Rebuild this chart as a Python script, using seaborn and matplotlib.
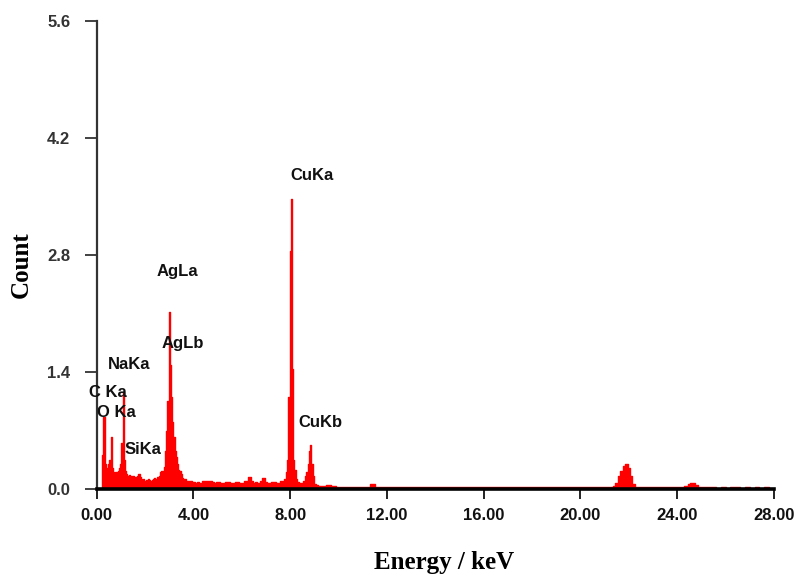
import numpy as np
import pandas as pd
import matplotlib
matplotlib.use("Agg")
import matplotlib.pyplot as plt
import seaborn as sns

# EDS spectrum (energy in keV, counts)
energy_low = [0.20, 0.25, 0.30, 0.35, 0.40, 0.45, 0.50, 0.55, 0.60, 0.65,
              0.70, 0.75, 0.80, 0.85, 0.90, 0.95, 1.00, 1.05, 1.10, 1.15,
              1.20, 1.25, 1.30, 1.35, 1.40, 1.45, 1.50, 1.55, 1.60, 1.65,
              1.70, 1.75, 1.80, 1.85, 1.90, 1.95, 2.00, 2.05, 2.10, 2.15,
              2.20, 2.25, 2.30, 2.35, 2.40, 2.45, 2.50, 2.55, 2.60, 2.65,
              2.70, 2.75, 2.80, 2.85, 2.90, 2.95, 3.00, 3.05, 3.10, 3.15,
              3.20, 3.25, 3.30, 3.35, 3.40, 3.45, 3.50, 3.55, 3.60, 3.65,
              3.70, 3.75, 3.80]
count_low = [0.00, 0.41, 0.86, 0.30, 0.25, 0.22, 0.30, 0.35, 0.62, 0.25,
             0.20, 0.18, 0.20, 0.19, 0.22, 0.25, 0.30, 0.55, 1.16, 0.35,
             0.22, 0.18, 0.16, 0.17, 0.15, 0.14, 0.15, 0.13, 0.14, 0.12,
             0.15, 0.18, 0.14, 0.12, 0.11, 0.12, 0.10, 0.11, 0.10, 0.12,
             0.11, 0.10, 0.11, 0.12, 0.13, 0.12, 0.14, 0.13, 0.15, 0.20,
             0.22, 0.18, 0.26, 0.45, 0.70, 1.05, 2.12, 1.48, 1.10, 0.80,
             0.62, 0.45, 0.38, 0.30, 0.23, 0.22, 0.18, 0.13, 0.11, 0.12,
             0.10, 0.09, 0.10]

energy_mid = [3.9, 4.0, 4.1, 4.2, 4.3, 4.4, 4.5, 4.6, 4.7, 4.8,
              4.9, 5.0, 5.2, 5.4, 5.6, 5.8, 6.0, 6.2, 6.3, 6.35,
              6.4, 6.5, 6.6, 6.7, 6.8, 6.9, 7.0, 7.1, 7.3, 7.5,
              7.7, 7.8, 7.85, 7.9, 7.95, 8.00, 8.05, 8.10, 8.15, 8.20,
              8.25, 8.30, 8.40, 8.50, 8.60, 8.65, 8.70, 8.75, 8.80, 8.85,
              8.90, 8.95, 9.00, 9.10, 9.20]
count_mid = [0.09, 0.08, 0.075, 0.08, 0.075, 0.10, 0.10, 0.09, 0.10, 0.08,
             0.075, 0.08, 0.075, 0.08, 0.075, 0.08, 0.075, 0.09, 0.14, 0.14,
             0.10, 0.075, 0.08, 0.075, 0.10, 0.13, 0.08, 0.075, 0.08, 0.075,
             0.09, 0.12, 0.20, 0.35, 1.10, 2.85, 3.47, 1.44, 0.35, 0.23,
             0.12, 0.08, 0.07, 0.07, 0.10, 0.15, 0.20, 0.30, 0.45, 0.53,
             0.30, 0.15, 0.06, 0.05, 0.04]

energy_high = [9.4, 9.6, 9.8, 10.0, 10.4, 10.8, 11.2, 11.4, 11.6, 12.0,
               12.5, 13.0, 13.5, 14.0, 14.5, 15.0, 15.5, 16.0, 16.5, 17.0,
               17.5, 18.0, 18.5, 19.0, 19.5, 20.0, 20.5, 21.0, 21.3, 21.4,
               21.5, 21.6, 21.7, 21.8, 21.9, 22.0, 22.1, 22.2, 22.3, 22.6,
               23.0, 23.4, 23.8, 24.2, 24.4, 24.5, 24.6, 24.7, 24.8, 24.9,
               25.2, 25.5, 25.7, 25.9, 26.1, 26.3, 26.5, 26.7, 26.9, 27.1,
               27.3, 27.5, 27.7, 27.9, 28.0]
count_high = [0.035, 0.05, 0.04, 0.03, 0.03, 0.028, 0.03, 0.06, 0.03, 0.028,
              0.025, 0.025, 0.024, 0.025, 0.024, 0.025, 0.024, 0.025, 0.024, 0.025,
              0.024, 0.025, 0.024, 0.025, 0.024, 0.025, 0.026, 0.028, 0.03, 0.04,
              0.07, 0.15, 0.22, 0.27, 0.30, 0.25, 0.15, 0.06, 0.03, 0.028,
              0.026, 0.025, 0.026, 0.028, 0.04, 0.06, 0.07, 0.07, 0.05, 0.03,
              0.025, 0.02, 0.005, 0.02, 0.005, 0.02, 0.02, 0.005, 0.02, 0.005,
              0.02, 0.005, 0.02, 0.005, 0.0]

peak_names = ["CuKa", "AgLa", "AgLb", "NaKa", "C Ka", "O Ka", "SiKa", "CuKb"]

spectrum = pd.DataFrame({
    "Energy": energy_low + energy_mid + energy_high,
    "Count": count_low + count_mid + count_high,
})

sns.set_style("ticks")
plt.rcParams['font.family'] = ['Liberation Sans', 'DejaVu Sans']

fig = plt.figure(figsize=(8.02, 5.77), dpi=100)
ax = fig.add_axes([0.1205, 0.1525, 0.8445, 0.811])

sns.lineplot(data=spectrum, x="Energy", y="Count", drawstyle="steps-mid",
             color="#ff0000", linewidth=1.0, ax=ax, estimator=None)
ax.fill_between(spectrum["Energy"], spectrum["Count"], step="mid",
                color="#ff0000", linewidth=0)

ax.set_xlim(0, 28)
ax.set_ylim(0, 5.6)
ax.set_xticks(np.arange(0, 28.1, 4))
ax.set_xticklabels([f"{v:.2f}" for v in np.arange(0, 28.1, 4)])
ax.set_yticks([0.0, 1.4, 2.8, 4.2, 5.6])
ax.set_yticklabels(["0.0", "1.4", "2.8", "4.2", "5.6"])

for lab in ax.get_xticklabels() + ax.get_yticklabels():
    lab.set_fontweight("bold")
    lab.set_fontsize(12)
    lab.set_color("#111111")
ax.tick_params(axis="x", length=7, width=1.3, pad=7, colors="#111111")
ax.tick_params(axis="y", length=9, width=1.3, pad=10, colors="#333333")

sns.despine(ax=ax)
ax.spines["left"].set_linewidth(1.6)
ax.spines["left"].set_color("#333333")
ax.spines["bottom"].set_linewidth(2.6)
ax.spines["bottom"].set_color("black")
ax.spines["bottom"].set_zorder(5)

ax.set_xlabel("Energy / keV", fontsize=18, fontweight="bold",
              family="Liberation Serif", color="black")
ax.set_ylabel("Count", fontsize=18, fontweight="bold",
              family="Liberation Serif", color="black")
ax.xaxis.set_label_coords(0.513, -0.133)
ax.yaxis.set_label_coords(-0.095, 0.479)

# peak labels
label_pos = [(8.91, 3.75), (3.33, 2.60), (3.58, 1.74), (1.34, 1.49),
             (0.47, 1.15), (0.80, 0.92), (1.92, 0.47), (9.25, 0.80)]
for name, (x, y) in zip(peak_names, label_pos):
    ax.text(x, y, name, ha="center", va="center", fontsize=12,
            fontweight="bold", color="#111111")

fig.savefig("out.png", dpi=100)
